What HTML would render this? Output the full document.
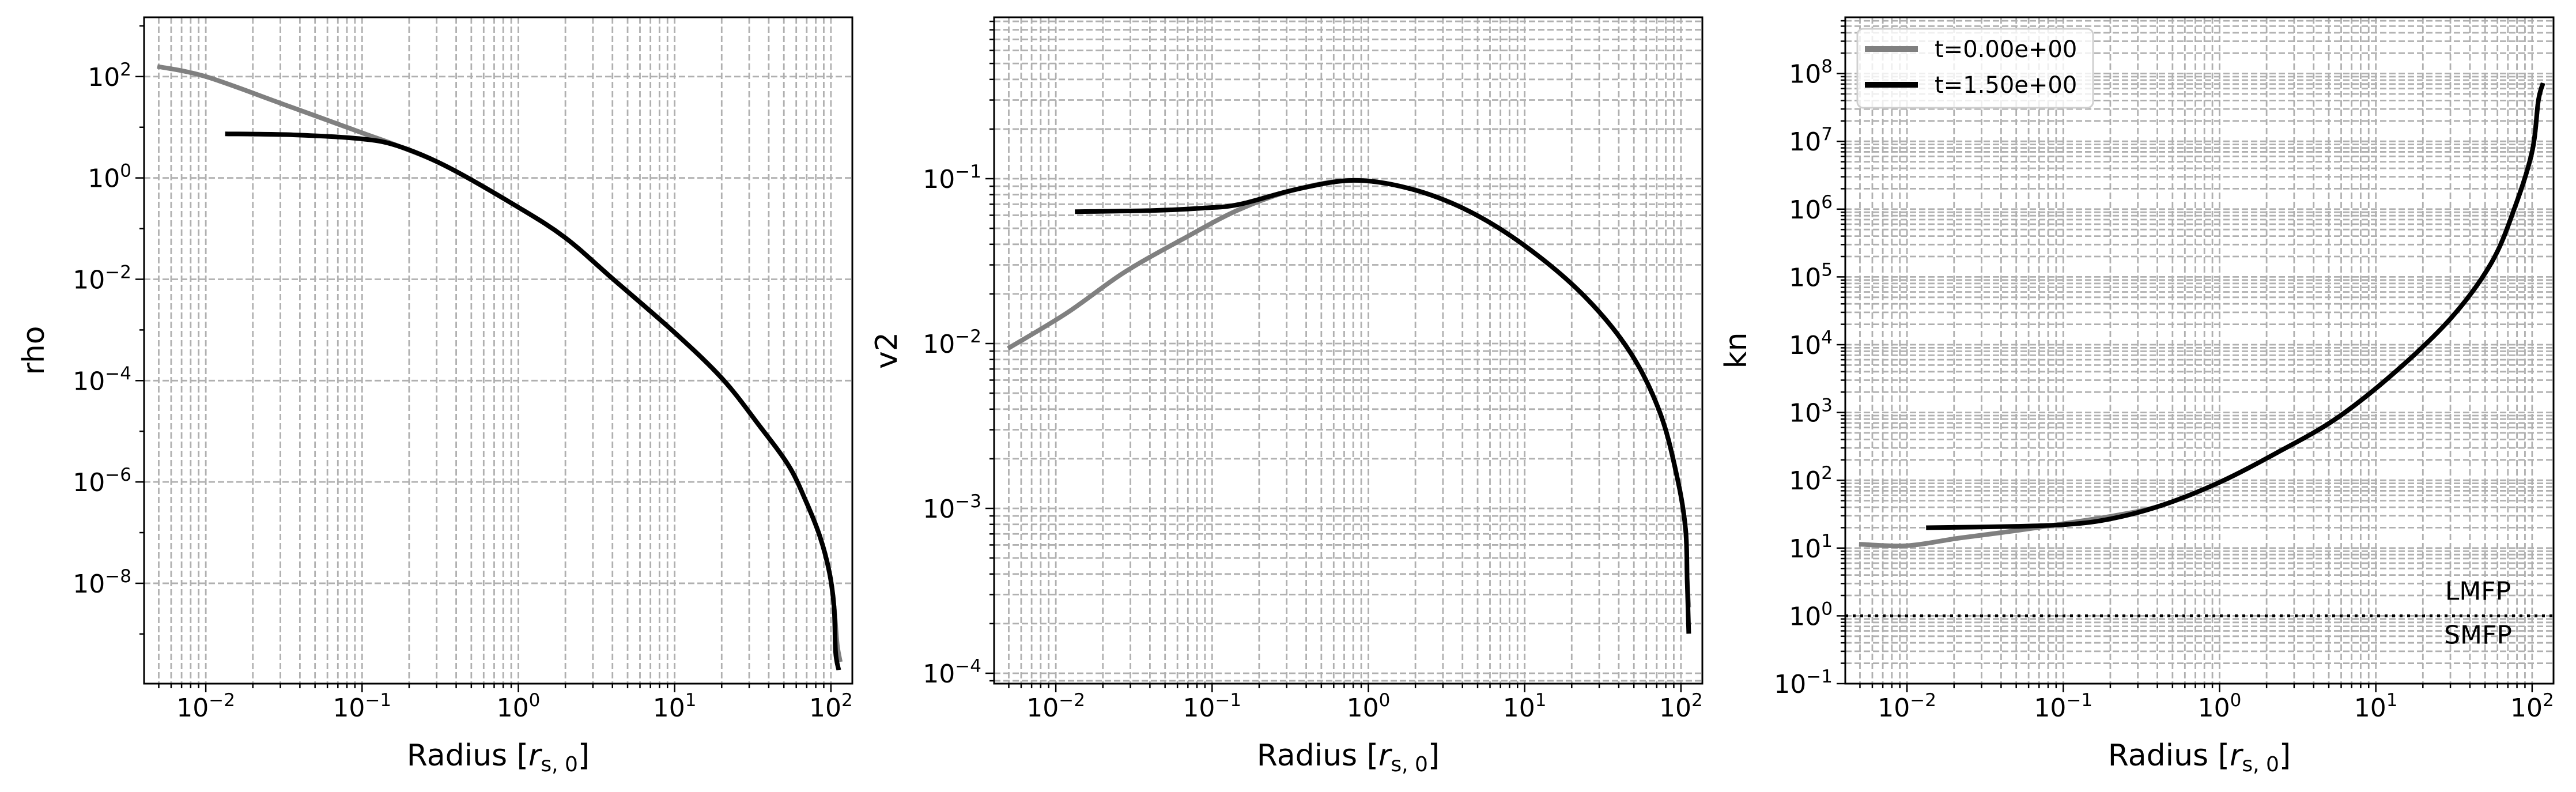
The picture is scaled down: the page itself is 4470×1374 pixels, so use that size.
<!DOCTYPE html>
<html><head><meta charset="utf-8"><style>
html,body{margin:0;padding:0;background:#fff;}
svg{display:block;font-family:"DejaVu Sans","Liberation Sans",sans-serif;}
</style></head><body>
<svg id="fig" width="4470" height="1374" viewBox="0 0 4470 1374" xmlns="http://www.w3.org/2000/svg"></svg>
<script>
// ---- data (log10 values) ----
const rhoGrayX = [-2.31,-2.0,-1.5,-1.0,-0.76,-0.455,0,0.30,0.60,1.01,1.31,1.54,1.73,1.84,1.93,1.99,2.02,2.04,2.06];
const rhoGrayY = [2.2,2.0,1.45,0.89,0.62,0.22,-0.58,-1.18,-1.98,-3.08,-3.98,-4.88,-5.68,-6.38,-7.08,-7.78,-8.46,-9.2,-9.55];
const rhoBlackX = [-1.876,-1.44,-1.0,-0.76,-0.455,0,0.30,0.60,1.01,1.31,1.54,1.73,1.84,1.93,1.99,2.02,2.03,2.05];
const rhoBlackY = [0.87,0.85,0.77,0.62,0.22,-0.58,-1.18,-1.98,-3.08,-3.98,-4.88,-5.68,-6.38,-7.08,-7.78,-8.46,-9.36,-9.71];
const v2GrayX = [-2.306,-1.93,-1.565,-1.195,-0.826,-0.458,-0.09,0.28,0.65,1.02,1.39,1.68,1.87,1.98,2.03,2.04,2.05];
const v2GrayY = [-2.03,-1.815,-1.57,-1.37,-1.187,-1.064,-1.01,-1.064,-1.2,-1.42,-1.72,-2.06,-2.43,-2.83,-3.13,-3.44,-3.6];
const v2BlackX = [-1.878,-1.38,-1.05,-0.826,-0.458,-0.09,0.28,0.65,1.02,1.39,1.68,1.87,1.98,2.03,2.04,2.05];
const v2BlackY = [-1.2,-1.193,-1.178,-1.156,-1.064,-1.01,-1.064,-1.2,-1.42,-1.72,-2.06,-2.43,-2.83,-3.13,-3.44,-3.76];
const knGrayX = [-2.307,-2.0,-1.667,-1.296,-0.926,-0.667,-0.37,0,0.37,0.74,1.11,1.48,1.74,1.89,2.0,2.04,2.07];
const knGrayY = [1.057,1.035,1.147,1.259,1.386,1.48,1.63,1.97,2.41,2.9,3.57,4.39,5.21,6.03,6.85,7.6,7.86];
const knBlackX = [-1.878,-1.296,-0.93,-0.667,-0.37,0,0.37,0.74,1.11,1.48,1.74,1.89,2.0,2.04,2.07];
const knBlackY = [1.30,1.32,1.356,1.445,1.63,1.97,2.41,2.9,3.57,4.39,5.21,6.03,6.85,7.6,7.86];
const xTickExps = [-2,-1,0,1,2];
const rhoTickExps = [2,0,-2,-4,-6,-8];
const v2TickExps = [-1,-2,-3,-4];
const knTickExps = [8,7,6,5,4,3,2,1,0,-1];
const legendLabels = ["t=0.00e+00","t=1.50e+00"];
const refLevel = [0];

const NS="http://www.w3.org/2000/svg";
const fig=document.getElementById('fig');
function el(tag,attrs,parent){const e=document.createElementNS(NS,tag);for(const k in attrs)e.setAttribute(k,attrs[k]);(parent||fig).appendChild(e);return e;}
function smoothPath(pts){
  let d='M'+pts[0][0]+','+pts[0][1];
  for(let i=0;i<pts.length-1;i++){
    const p0=pts[Math.max(0,i-1)],p1=pts[i],p2=pts[i+1],p3=pts[Math.min(pts.length-1,i+2)];
    const c1=[p1[0]+(p2[0]-p0[0])/6,p1[1]+(p2[1]-p0[1])/6];
    const c2=[p2[0]-(p3[0]-p1[0])/6,p2[1]-(p3[1]-p1[1])/6];
    d+=' C'+c1[0]+','+c1[1]+' '+c2[0]+','+c2[1]+' '+p2[0]+','+p2[1];
  }
  return d;
}

const XMIN=-2.395, XMAX=2.137, TOP=30, BOT=1186, W=1229;
function panel(name,left,ymin,ymax,ticks,minorY,ylabel,ylabelX,gx,gy,bx,by){
  const g=el('g',{});
  
  
  const sx=v=>left+(v-XMIN)/(XMAX-XMIN)*W;
  const sy=v=>BOT-(v-ymin)/(ymax-ymin)*(BOT-TOP);
  const grid=el('g',{stroke:'#b0b0b0','stroke-width':2.8,'stroke-dasharray':'11 5',fill:'none'},g);
  
  
  const ticks_g=el('g',{stroke:'#000','stroke-width':2.5},g);
  for(let d=-3;d<=2;d++){for(let m=1;m<10;m++){const v=d+Math.log10(m);if(v<XMIN||v>XMAX)continue;const x=sx(v);
    el('line',{x1:x,x2:x,y1:TOP,y2:BOT},grid);
    el('line',{x1:x,x2:x,y1:BOT,y2:BOT+(m===1?15:8)},ticks_g);}}
  for(let d=Math.floor(ymin);d<=Math.ceil(ymax);d++){for(let m=1;m<10;m++){if(m>1&&!minorY)continue;const v=d+Math.log10(m);if(v<ymin||v>ymax)continue;const y=sy(v);
    const major=(m===1);
    if(m===1&&!minorY&&!ticks.includes(d))continue;
    el('line',{x1:left,x2:left+W,y1:y,y2:y},grid);
    el('line',{x1:left-(major?15:8),x2:left,y1:y,y2:y},ticks_g);}}
  if(!minorY){
    for(let d=Math.floor(ymin);d<=Math.ceil(ymax);d++){if(ticks.includes(d))continue;if(d<ymin||d>ymax)continue;const y=sy(d);el('line',{x1:left-8,x2:left,y1:y,y2:y},ticks_g);}
  }
  xTickExps.forEach(e=>{const t=el('text',{x:sx(e),y:1243,'font-size':44,'text-anchor':'middle'},g);
    
    t.innerHTML='10<tspan dy="-18" font-size="31">'+(e<0?'\u2212'+(-e):e)+'</tspan>';});
  ticks.forEach(e=>{const t=el('text',{x:left-22,y:sy(e)+16,'font-size':44,'text-anchor':'end'},g);
    
    t.innerHTML='10<tspan dy="-18" font-size="31">'+(e<0?'\u2212'+(-e):e)+'</tspan>';});
  function line(xs,ys,color,nm){const p=el('path',{d:smoothPath(xs.map((x,i)=>[sx(x),sy(ys[i])])),fill:'none',stroke:color,'stroke-width':8,'stroke-linejoin':'round'},g);
    }
  line(gx,gy,'#808080',name+'-t0-line');
  line(bx,by,'#000000',name+'-t1-line');
  const fr=el('rect',{x:left,y:TOP,width:W,height:BOT-TOP,fill:'none',stroke:'#000','stroke-width':3},g);
  
  const yl=el('text',{x:ylabelX,y:(TOP+BOT)/2,'font-size':52,'text-anchor':'middle',transform:'rotate(-90 '+ylabelX+' '+(TOP+BOT)/2+')'},g);
  yl.textContent=ylabel;
  const xl=el('text',{x:left+W/2,y:1328,'font-size':52,'text-anchor':'middle'},g);
  
  xl.innerHTML='Radius [<tspan font-style="italic">r</tspan><tspan font-size="36" dy="10">s, 0</tspan><tspan dy="-10">]</tspan>';
  return {sx,sy,g};
}
panel('rho',250,-9.98,3.17,rhoTickExps,false,'rho',76,rhoGrayX,rhoGrayY,rhoBlackX,rhoBlackY);
panel('v2',1725,-4.063,-0.021,v2TickExps,true,'v2',1556,v2GrayX,v2GrayY,v2BlackX,v2BlackY);
const kn=panel('kn',3202,-1,8.83,knTickExps,true,'kn',3030,knGrayX,knGrayY,knBlackX,knBlackY);
refLevel.forEach(v=>{const y=kn.sy(v);const l=el('line',{x1:3202,x2:4431,y1:y,y2:y,stroke:'#000','stroke-width':5,'stroke-dasharray':'5 8'},kn.g);
  });
const t1=el('text',{x:4300,y:kn.sy(0)-28,'font-size':44,'text-anchor':'middle'},kn.g);
t1.textContent='LMFP';
const t2=el('text',{x:4300,y:kn.sy(0)+48,'font-size':44,'text-anchor':'middle'},kn.g);
t2.textContent='SMFP';
const lg=el('g',{},kn.g);

el('rect',{x:3223,y:50,width:409,height:137,rx:10,fill:'#fff','fill-opacity':0.8,stroke:'#d0d0d0','stroke-width':3},lg);
const cols=['#808080','#000'];
legendLabels.forEach((s,i)=>{const y=85+i*62;
  const e=el('g',{},lg);
  el('line',{x1:3236,x2:3328,y1:y,y2:y,stroke:cols[i],'stroke-width':10},e);
  const t=el('text',{x:3357,y:y+14,'font-size':40},e);t.textContent=s;});
</script>
</body></html>
